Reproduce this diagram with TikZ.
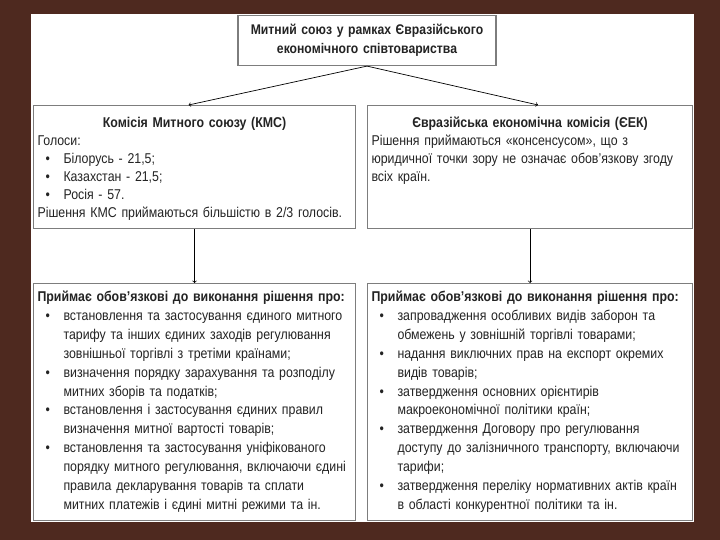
\documentclass[tikz,border=0pt]{standalone}
\usepackage{fontspec}
\setmainfont{Liberation Sans}[FakeStretch=0.87]
\usepackage{tikz}

\definecolor{framebrown}{RGB}{78,41,31}
\definecolor{boxgray}{RGB}{125,125,125}
\definecolor{inkgray}{RGB}{35,35,35}

% bullet line with hanging indent
\newcommand{\bul}{\par\hangindent=26pt\hangafter=1\noindent\hbox to 26pt{\hspace{8pt}\textbullet\hfil}}

\begin{document}
\begin{tikzpicture}[x=1pt,y=-1pt,
    box/.style={draw=boxgray,line width=1.1pt,fill=white,anchor=north west,
      inner xsep=4pt,inner ysep=3pt,align=left,text=inkgray,
      font=\fontsize{14.2}{18}\selectfont},
    lowbox/.style={box,text height=15pt,text depth=216pt,
      font=\fontsize{14.2}{18.9}\selectfont},
    link/.style={->,black,line width=0.7pt}]
        % frame
        \fill[framebrown] (0,0) rectangle (720,540);
        \fill[white] (31,14) rectangle (694,522);
        % top
        \node[box,anchor=north,align=center,text width=250pt,minimum width=258pt,
              minimum height=50pt,font=\bfseries\fontsize{14}{19}\selectfont] (union) at (367,15)
              {Митний союз у рамках Євразійського\\економічного співтовариства};
        % commissions
        \node[box,text width=314pt,text height=19pt,text depth=98pt] (kms) at (33,105)
              {{\centering\bfseries Комісія Митного союзу (КМС)\par}
               Голоси:
               \bul Білорусь - 21,5;
               \bul Казахстан - 21,5;
               \bul Росія - 57.
               \par Рішення КМС приймаються більшістю в 2/3 голосів.};
        \node[box,text width=317pt,text height=19pt,text depth=98pt] (eek) at (367,105)
              {{\centering\bfseries Євразійська економічна комісія (ЄЕК)\par}
               Рішення приймаються «консенсусом», що з\newline
               юридичної точки зору не означає обов’язкову згоду\newline
               всіх країн.};
        % decisions
        \node[lowbox,text width=314pt] (kmsdo) at (33,283)
              {{\bfseries Приймає обов’язкові до виконання рішення про:\par}
               \bul встановлення та застосування єдиного митного\newline
                    тарифу та інших єдиних заходів регулювання\newline
                    зовнішньої торгівлі з третіми країнами;
               \bul визначення порядку зарахування та розподілу\newline
                    митних зборів та податків;
               \bul встановлення і застосування єдиних правил\newline
                    визначення митної вартості товарів;
               \bul встановлення та застосування уніфікованого\newline
                    порядку митного регулювання, включаючи єдині\newline
                    правила декларування товарів та сплати\newline
                    митних платежів і єдині митні режими та ін.\par};
        \node[lowbox,text width=317pt] (eekdo) at (367,283)
              {{\bfseries Приймає обов’язкові до виконання рішення про:\par}
               \bul запровадження особливих видів заборон та\newline
                    обмежень у зовнішній торгівлі товарами;
               \bul надання виключних прав на експорт окремих\newline
                    видів товарів;
               \bul затвердження основних орієнтирів\newline
                    макроекономічної політики країн;
               \bul затвердження Договору про регулювання\newline
                    доступу до залізничного транспорту, включаючи\newline
                    тарифи;
               \bul затвердження переліку нормативних актів країн\newline
                    в області конкурентної політики та ін.\par};
        % arrows
        \draw[link] (union.south) -- ([xshift=-6pt]kms.north);
        \draw[link] (union.south) -- ([xshift=8pt]eek.north);
        \draw[link] (kms.south) -- (kmsdo.north);
        \draw[link] (eek.south) -- (eekdo.north);
    \end{tikzpicture}
\end{document}
